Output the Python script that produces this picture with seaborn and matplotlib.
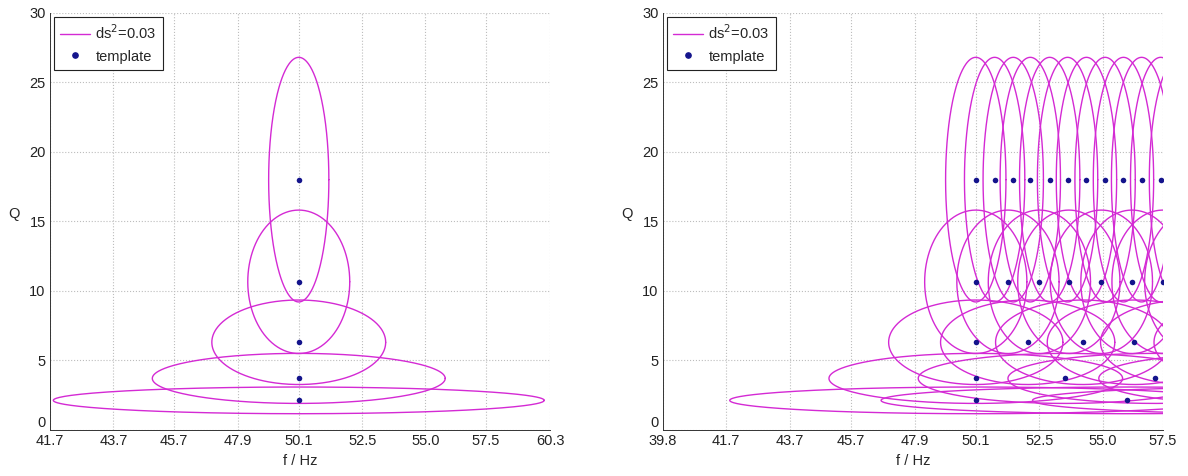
import numpy as np
import pandas as pd
import matplotlib
matplotlib.use("Agg")
import matplotlib.pyplot as plt
import seaborn as sns
from matplotlib.lines import Line2D

# ---------------- data ----------------
# Q value of each template row, and the half-size of its ds^2=0.03 ellipse
row_Q = [2.12, 3.7, 6.3, 10.65, 18.0]
row_half_width_log = [0.181, 0.108, 0.0641, 0.0376, 0.0222]   # in ln(f)
row_half_height = [0.96, 1.8, 3.04, 5.16, 8.8]                # in Q

# left panel: one template per row at f = 50.1 Hz
left_f = [50.1, 50.1, 50.1, 50.1, 50.1]

# right panel: template bank (Hz) per row (last ones lie just beyond the axis)
right_f_rows = [
    [50.1, 56.0, 62.6],
    [50.1, 53.5, 57.15, 61.1],
    [50.1, 52.05, 54.2, 56.3, 58.55, 60.9],
    [50.1, 51.3, 52.5, 53.65, 54.95, 56.2, 57.5, 58.9],
    [50.1, 50.8, 51.5, 52.15, 52.9, 53.6, 54.35, 55.1, 55.85, 56.6, 57.4, 58.2],
]

left_xticks = [41.7, 43.7, 45.7, 47.9, 50.1, 52.5, 55.0, 57.5, 60.3]
left_xlabels = ["41.7", "43.7", "45.7", "47.9", "50.1", "52.5", "55.0", "57.5", "60.3"]
right_xticks = [39.8, 41.7, 43.7, 45.7, 47.9, 50.1, 52.5, 55.0, 57.5]
right_xlabels = ["39.8", "41.7", "43.7", "45.7", "47.9", "50.1", "52.5", "55.0", "57.5"]
yticks = [0, 5, 10, 15, 20, 25, 30]

LINE_C = "#d42ad4"
DOT_C = "#14148c"

# ---------------- build tables ----------------
t = np.linspace(0, 2 * np.pi, 400)


def ellipse_table(templates):
    frames, dots = [], []
    for k, (fc, qc, w, h) in enumerate(templates):
        frames.append(pd.DataFrame({"f": fc * np.exp(w * np.cos(t)),
                                    "Q": qc + h * np.sin(t),
                                    "id": k}))
        dots.append((fc, qc))
    return pd.concat(frames, ignore_index=True), pd.DataFrame(dots, columns=["f", "Q"])


left_templates = [(f, q, w, h) for f, q, w, h in
                  zip(left_f, row_Q, row_half_width_log, row_half_height)]
right_templates = [(f, q, w, h)
                   for fs, q, w, h in zip(right_f_rows, row_Q, row_half_width_log, row_half_height)
                   for f in fs]

sns.set_theme(style="white")
plt.rcParams["font.family"] = ["Liberation Sans", "DejaVu Sans"]
plt.rcParams["font.size"] = 10

fig = plt.figure(figsize=(11.88, 4.76), dpi=100)
ax_l = fig.add_axes([0.042, 0.097, 0.421, 0.876])
ax_r = fig.add_axes([0.558, 0.097, 0.421, 0.876])

for ax, templates, xt, xl in [(ax_l, left_templates, left_xticks, left_xlabels),
                              (ax_r, right_templates, right_xticks, right_xlabels)]:
    ell, dots = ellipse_table(templates)
    ax.set_xscale("log")
    sns.lineplot(data=ell, x="f", y="Q", units="id", estimator=None, sort=False,
                 color=LINE_C, linewidth=1.0, ax=ax, legend=False)
    sns.scatterplot(data=dots, x="f", y="Q", color=DOT_C, s=16, linewidth=0,
                    ax=ax, legend=False, zorder=5)
    ax.set_xlim(xt[0], xt[-1])
    ax.set_ylim(0, 30)
    ax.set_xticks(xt)
    ax.set_xticklabels(xl)
    ax.minorticks_off()
    ax.set_yticks(yticks)
    ax.set_yticklabels([str(v) for v in yticks])
    # the "0" label sits just above the x-axis, as in the reference
    ax.get_yticklabels()[0].set_verticalalignment("bottom")
    ax.grid(True, color="#bdbdbd", linestyle=":", linewidth=0.8)
    ax.tick_params(direction="in", length=4, width=0.6, colors="#222222",
                   labelsize=10.5, pad=3, top=False, right=False)
    for side in ["left", "bottom"]:
        ax.spines[side].set_color("#333333")
        ax.spines[side].set_linewidth(0.7)
    for side in ["top", "right"]:
        ax.spines[side].set_visible(False)
    ax.set_xlabel("f / Hz", fontsize=10.5, labelpad=4)
    ax.set_ylabel("Q", fontsize=10.5, rotation=0)
    ax.yaxis.set_label_coords(-0.072, 0.5)

    handles = [Line2D([0], [0], color=LINE_C, lw=1.0),
               Line2D([0], [0], color=DOT_C, marker="o", markersize=3.8, lw=0)]
    leg = ax.legend(handles, ["ds$^2$=0.03", "template"], loc="upper left",
                    bbox_to_anchor=(0.008, 0.99), fontsize=10.5, frameon=True,
                    fancybox=False, edgecolor="#222222", framealpha=1,
                    handlelength=2.0, handletextpad=0.4, borderpad=0.45,
                    labelspacing=0.5, borderaxespad=0.0)
    leg.get_frame().set_linewidth(0.8)

fig.savefig("out.png", dpi=100)
